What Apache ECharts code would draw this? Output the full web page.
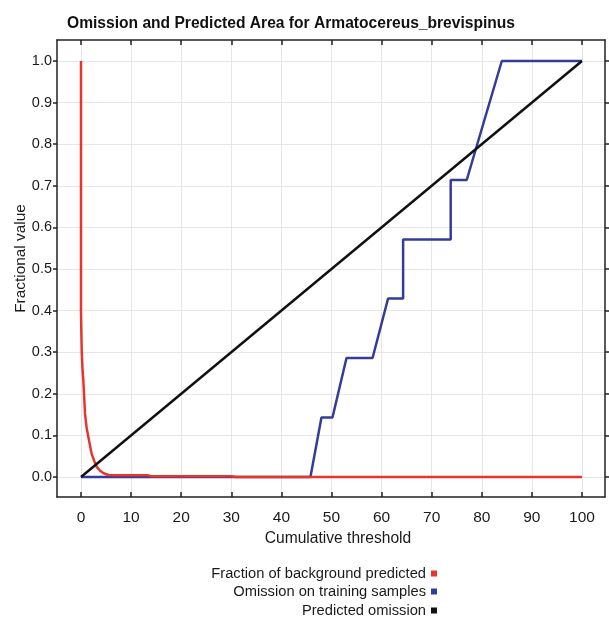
<!DOCTYPE html>
<html>
<head>
<meta charset="utf-8">
<script src="https://cdn.jsdelivr.net/npm/echarts@6/dist/echarts.min.js"></script>
<style>html,body{margin:0;padding:0;background:#fff}#c{width:609px;height:621px}</style>
</head>
<body>
<div id="c"></div>
<script>
// Tick labels
var xTicks = [0, 10, 20, 30, 40, 50, 60, 70, 80, 90, 100];
var yTicks = [0, 0.1, 0.2, 0.3, 0.4, 0.5, 0.6, 0.7, 0.8, 0.9, 1.0];

// Fraction of background predicted (red)
var bgX = [0, 0, 0.05, 0.15, 0.3, 0.46, 0.8, 1.1, 1.46, 2.1, 2.6, 3.1, 3.8, 4.5, 5.5, 6.4, 8, 10, 13.4, 14, 20, 30, 31, 40, 50, 100];
var bgY = [1.0, 0.4, 0.36, 0.3, 0.26, 0.233, 0.153, 0.12, 0.097, 0.057, 0.04, 0.025, 0.015, 0.009, 0.005, 0.004, 0.004, 0.004, 0.004, 0.002, 0.002, 0.002, 0.0, 0, 0, 0];

// Omission on training samples (blue)
var omX = [0, 45.8, 48.0, 50.2, 53.0, 58.2, 61.3, 64.3, 64.3, 73.8, 73.8, 77.0, 84.0, 100];
var omY = [0, 0, 0.143, 0.143, 0.286, 0.286, 0.429, 0.429, 0.571, 0.571, 0.714, 0.714, 1.0, 1.0];

// Predicted omission (black)
var predX = [0, 100];
var predY = [0, 1];

function pairs(xs, ys) { return xs.map(function (x, i) { return [x, ys[i]]; }); }

var FONT = 'Liberation Sans, Arial, sans-serif';
var xMin = -4.79, xMax = 104.6, yMin = -0.048, yMax = 1.0505;

var chart = echarts.init(document.getElementById('c'), null, {renderer: 'canvas'});
var txt = {color: '#1a1a1a', fontSize: 14.7, fontFamily: FONT};

function legendAt(name, top) {
  return {
    data: [name], right: 172, top: top, align: 'right', orient: 'vertical',
    icon: 'rect', itemWidth: 6, itemHeight: 6, padding: 0,
    textStyle: txt, selectedMode: false
  };
}

chart.setOption({
  animation: false,
  backgroundColor: '#fff',
  title: {
    text: 'Omission and Predicted Area for Armatocereus_brevispinus',
    left: 62, top: 11,
    textStyle: {fontSize: 15.6, fontWeight: 'bold', color: '#111', fontFamily: FONT}
  },
  legend: [
    legendAt('Fraction of background predicted', 566),
    legendAt('Omission on training samples', 584),
    legendAt('Predicted omission', 603)
  ],
  grid: {left: 57, right: 4, top: 40, bottom: 124, show: false, containLabel: false},
  xAxis: [{
    type: 'value', min: xMin, max: xMax, position: 'bottom',
    name: 'Cumulative threshold', nameLocation: 'middle', nameGap: 30,
    nameTextStyle: {color: '#1a1a1a', fontSize: 15.6, fontFamily: FONT, padding: [0, 0, 0, 14]},
    axisLine: {show: true, onZero: false, lineStyle: {color: '#222', width: 1.5}},
    axisTick: {show: true, inside: true, length: 5, customValues: xTicks, lineStyle: {color: '#222', width: 1.5}},
    axisLabel: {customValues: xTicks, margin: 13, color: '#1a1a1a', fontSize: 15.5, fontFamily: FONT,
      formatter: function (v) { return String(Math.round(v)); }},
    splitLine: {show: true, lineStyle: {color: '#e6e6e6', width: 1}}
  }, {
    type: 'value', min: xMin, max: xMax, position: 'top',
    axisLine: {show: true, onZero: false, lineStyle: {color: '#222', width: 1.5}},
    axisTick: {show: true, inside: true, length: 5, customValues: xTicks, lineStyle: {color: '#222', width: 1.5}},
    axisLabel: {show: false, customValues: xTicks},
    splitLine: {show: false}
  }],
  yAxis: [{
    type: 'value', min: yMin, max: yMax, position: 'left',
    name: 'Fractional value', nameLocation: 'middle', nameGap: 29, nameMoveOverlap: false,
    nameTextStyle: {color: '#1a1a1a', fontSize: 15.4, fontFamily: FONT, padding: [0, 0, 0, 20]},
    axisLine: {show: true, onZero: false, lineStyle: {color: '#222', width: 1.5}},
    axisTick: {show: true, inside: false, length: 4, customValues: yTicks, lineStyle: {color: '#222', width: 1.5}},
    axisLabel: {customValues: yTicks, margin: 5, color: '#1a1a1a', fontSize: 14.5, fontFamily: FONT,
      formatter: function (v) { return v.toFixed(1); }},
    splitLine: {show: true, lineStyle: {color: '#e6e6e6', width: 1}}
  }, {
    type: 'value', min: yMin, max: yMax, position: 'right',
    axisLine: {show: true, onZero: false, lineStyle: {color: '#222', width: 1.5}},
    axisTick: {show: true, inside: false, length: 4, customValues: yTicks, lineStyle: {color: '#222', width: 1.5}},
    axisLabel: {show: false, customValues: yTicks},
    splitLine: {show: false}
  }],
  series: [{
    name: 'Omission on training samples', type: 'line', xAxisIndex: 0, yAxisIndex: 0,
    data: pairs(omX, omY), showSymbol: false, symbol: 'none', z: 2,
    lineStyle: {color: '#343c9a', width: 2.5}, itemStyle: {color: '#343c9a'}
  }, {
    name: 'Fraction of background predicted', type: 'line', xAxisIndex: 0, yAxisIndex: 0,
    data: pairs(bgX, bgY), showSymbol: false, symbol: 'none', z: 3,
    lineStyle: {color: '#e8352c', width: 2.5}, itemStyle: {color: '#e8352c'}
  }, {
    name: 'Predicted omission', type: 'line', xAxisIndex: 0, yAxisIndex: 0,
    data: pairs(predX, predY), showSymbol: false, symbol: 'none', z: 4,
    lineStyle: {color: '#111111', width: 2.5}, itemStyle: {color: '#111111'}
  }]
});
</script>
</body>
</html>
